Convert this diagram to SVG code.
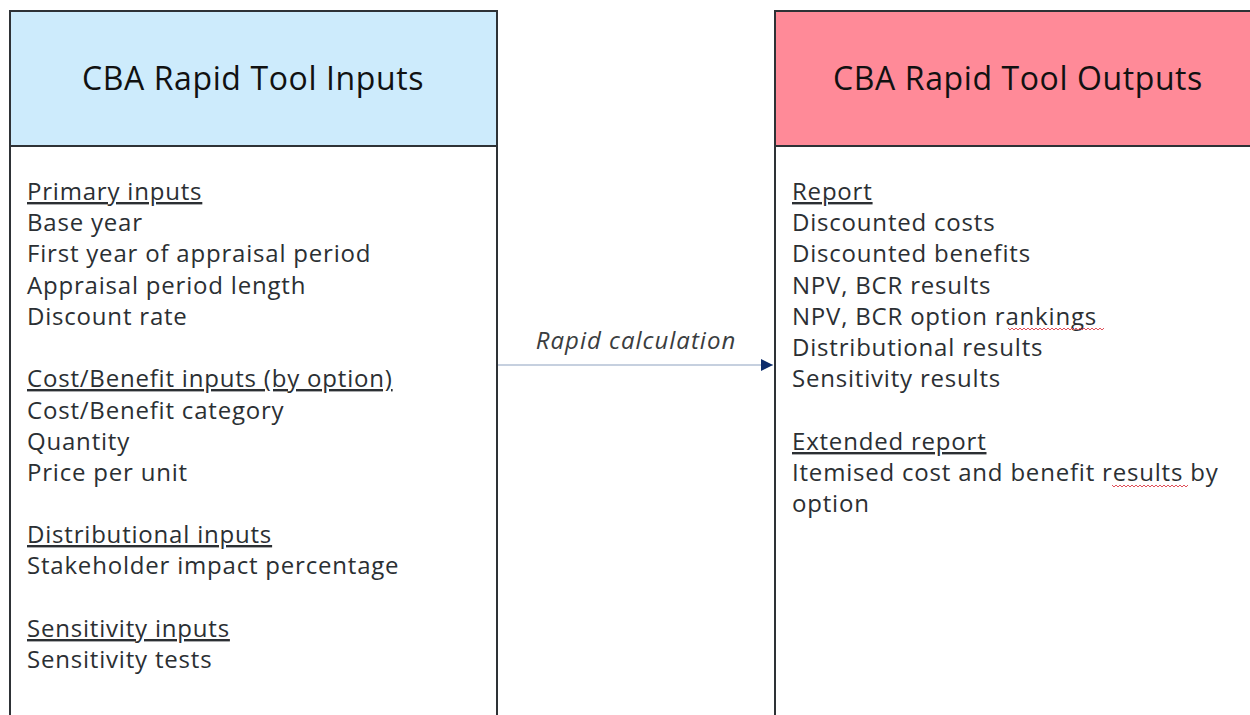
<svg xmlns="http://www.w3.org/2000/svg" width="1250" height="715" viewBox="0 0 1250 715">
  <defs>
    <style>
      .box { stroke: #2e3236; stroke-width: 2; }
      .title { font-family: "Open Sans", "Liberation Sans", sans-serif; font-size: 32px; fill: #111; text-anchor: middle; letter-spacing: 0.6px; }
      .item { font-family: "Open Sans", "Liberation Sans", sans-serif; font-size: 24px; fill: #2b2f33; letter-spacing: 0.8px; }
      .head { text-decoration: underline; }
      .label { font-family: "Open Sans", "Liberation Sans", sans-serif; font-size: 24px; font-style: italic; fill: #3a3d40; text-anchor: middle; letter-spacing: 1px; }
      .link { stroke: #8ea2bf; stroke-width: 1.2; fill: none; }
      .squiggle { stroke: #e0505a; stroke-width: 1; fill: none; }
    </style>
    <marker id="arrow" viewBox="0 0 12 12" refX="12" refY="6" markerWidth="12" markerHeight="12" markerUnits="userSpaceOnUse" orient="auto">
      <path d="M0,0 L12,6 L0,12 Z" fill="#0b2b6b"/>
    </marker>
  </defs>
  <rect width="1250" height="715" fill="#ffffff"/>

  <!-- Inputs panel -->
  <g id="inputs">
    <rect class="box" x="10" y="11" width="487" height="720" fill="#ffffff"/>
    <rect class="box" x="10" y="11" width="487" height="135" fill="#cdebfc"/>
    <text class="title" x="253" y="90">CBA Rapid Tool Inputs</text>
    <text class="item" x="27" y="200"><tspan class="head">Primary inputs</tspan></text>
    <text class="item" x="27" y="231">Base year</text>
    <text class="item" x="27" y="262">First year of appraisal period</text>
    <text class="item" x="27" y="294">Appraisal period length</text>
    <text class="item" x="27" y="325">Discount rate</text>
    <text class="item" x="27" y="387"><tspan class="head">Cost/Benefit inputs (by option)</tspan></text>
    <text class="item" x="27" y="419">Cost/Benefit category</text>
    <text class="item" x="27" y="450">Quantity</text>
    <text class="item" x="27" y="481">Price per unit</text>
    <text class="item" x="27" y="543"><tspan class="head">Distributional inputs</tspan></text>
    <text class="item" x="27" y="574">Stakeholder impact percentage</text>
    <text class="item" x="27" y="637"><tspan class="head">Sensitivity inputs</tspan></text>
    <text class="item" x="27" y="668">Sensitivity tests</text>
  </g>

  <!-- Outputs panel -->
  <g id="outputs">
    <rect class="box" x="775" y="11" width="500" height="720" fill="#ffffff"/>
    <rect class="box" x="775" y="11" width="500" height="135" fill="#ff8a98"/>
    <text class="title" x="1018" y="90">CBA Rapid Tool Outputs</text>
    <text class="item" x="792" y="200"><tspan class="head">Report</tspan></text>
    <text class="item" x="792" y="231">Discounted costs</text>
    <text class="item" x="792" y="262">Discounted benefits</text>
    <text class="item" x="792" y="294">NPV, BCR results</text>
    <text class="item" x="792" y="325">NPV, BCR option rankings</text>
    <text class="item" x="792" y="356">Distributional results</text>
    <text class="item" x="792" y="387">Sensitivity results</text>
    <text class="item" x="792" y="450"><tspan class="head">Extended report</tspan></text>
    <text class="item" x="792" y="481">Itemised cost and benefit results by</text>
    <text class="item" x="792" y="512">option</text>
    <path class="squiggle" d="M1008,328 l2,2 l2,-2 l2,2 l2,-2 l2,2 l2,-2 l2,2 l2,-2 l2,2 l2,-2 l2,2 l2,-2 l2,2 l2,-2 l2,2 l2,-2 l2,2 l2,-2 l2,2 l2,-2 l2,2 l2,-2 l2,2 l2,-2 l2,2 l2,-2 l2,2 l2,-2 l2,2 l2,-2 l2,2 l2,-2 l2,2 l2,-2 l2,2 l2,-2 l2,2 l2,-2 l2,2 l2,-2 l2,2 l2,-2 l2,2 l2,-2 l2,2 l2,-2 l2,2 l2,-2"/>
    <path class="squiggle" d="M1112,485 l2,2 l2,-2 l2,2 l2,-2 l2,2 l2,-2 l2,2 l2,-2 l2,2 l2,-2 l2,2 l2,-2 l2,2 l2,-2 l2,2 l2,-2 l2,2 l2,-2 l2,2 l2,-2 l2,2 l2,-2 l2,2 l2,-2 l2,2 l2,-2 l2,2 l2,-2 l2,2 l2,-2 l2,2 l2,-2 l2,2 l2,-2 l2,2 l2,-2 l2,2 l2,-2"/>
  </g>

  <!-- Connector -->
  <g id="connectors">
    <line class="link" x1="498" y1="365" x2="773" y2="365" marker-end="url(#arrow)"/>
    <text class="label" x="636" y="349">Rapid calculation</text>
  </g>
</svg>
